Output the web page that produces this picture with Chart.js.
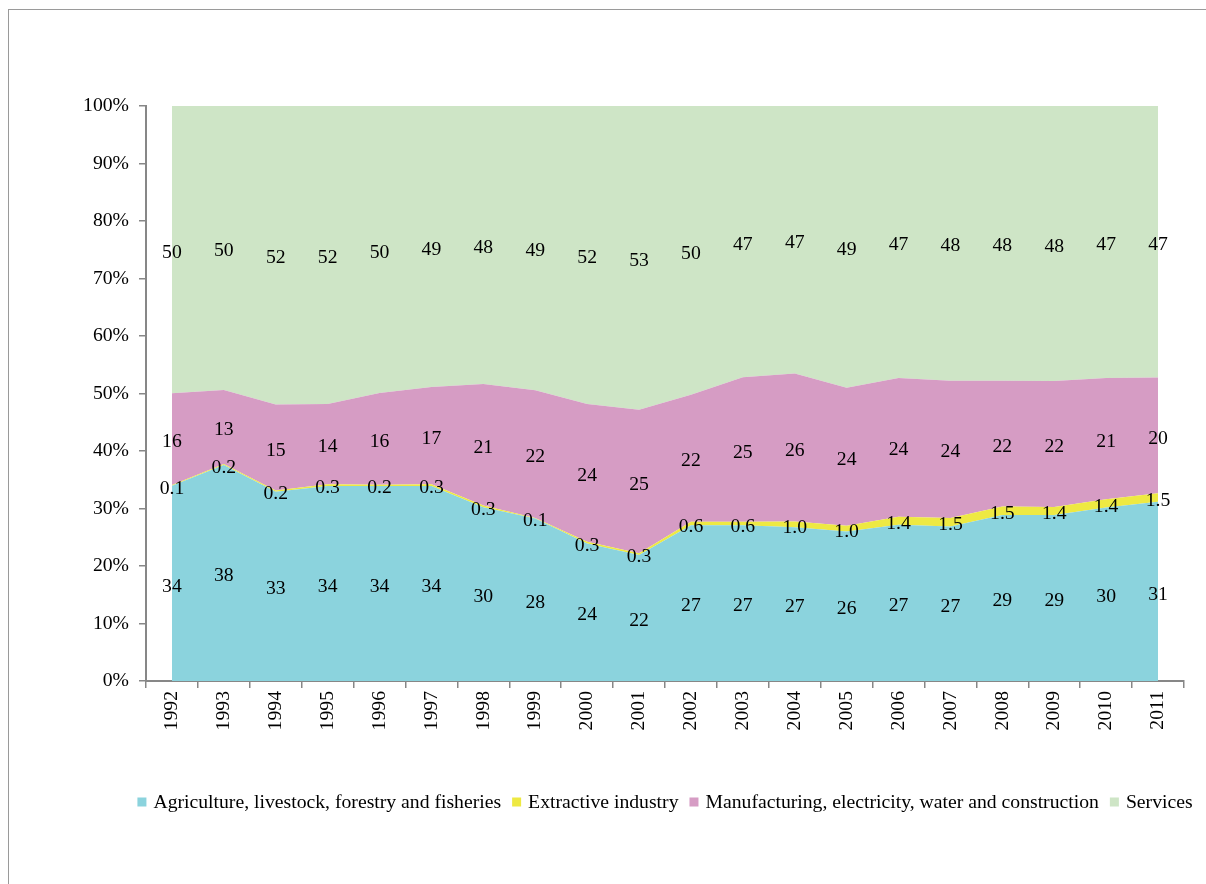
<!DOCTYPE html>
<html lang="en">
<head>
<meta charset="UTF-8" />
<title>GDP structure by sector, 1992-2011</title>
<script src="https://cdn.jsdelivr.net/npm/chart.js"></script>
<style>
  html, body { margin: 0; padding: 0; background: #fff; overflow: hidden; }
  #frame { position: absolute; left: 8px; top: 9px; width: 1300px; height: 1000px; border: 1.5px solid #9a9a9a; box-sizing: border-box; }
  #chart { position: absolute; left: 0; top: 0; }
</style>
</head>
<body>
<div id="frame"></div>
<canvas id="chart" width="1206" height="884"></canvas>

<script>
// shares of GDP by sector (%), as labelled on the chart
const years = ['1992','1993','1994','1995','1996','1997','1998','1999','2000','2001',
               '2002','2003','2004','2005','2006','2007','2008','2009','2010','2011'];
const agriculture   = [34, 38, 33, 34, 34, 34, 30, 28, 24, 22, 27, 27, 27, 26, 27, 27, 29, 29, 30, 31];
const extractive    = [0.1, 0.2, 0.2, 0.3, 0.2, 0.3, 0.3, 0.1, 0.3, 0.3, 0.6, 0.6, 1.0, 1.0, 1.4, 1.5, 1.5, 1.4, 1.4, 1.5];
const manufacturing = [16, 13, 15, 14, 16, 17, 21, 22, 24, 25, 22, 25, 26, 24, 24, 24, 22, 22, 21, 20];
const services      = [50, 50, 52, 52, 50, 49, 48, 49, 52, 53, 50, 47, 47, 49, 47, 48, 48, 48, 47, 47];
const yTicks = [0, 10, 20, 30, 40, 50, 60, 70, 80, 90, 100];

const FONT = '"Liberation Serif", "Times New Roman", serif';
const SIZE = 19.7;
const AXIS = '#878787';

const series = [
  { label: 'Agriculture, livestock, forestry and fisheries', values: agriculture, color: '#8bd3dd', fmt: v => Math.round(v) },
  { label: 'Extractive industry', values: extractive, color: '#eee942', fmt: v => v.toFixed(1) },
  { label: 'Manufacturing, electricity, water and construction', values: manufacturing, color: '#d69cc4', fmt: v => Math.round(v) },
  { label: 'Services', values: services, color: '#cee5c6', fmt: v => Math.round(v) }
];

// 100% stacking: turn each year into shares of its total
const totals = years.map((y, i) => series.reduce((s, d) => s + d.values[i], 0));

const segmentLabels = {
  id: 'segmentLabels',
  afterDatasetsDraw(chart) {
    const { ctx, scales: { x, y } } = chart;
    ctx.save();
    ctx.font = SIZE + 'px ' + FONT;
    ctx.fillStyle = '#000';
    ctx.textAlign = 'center';
    ctx.textBaseline = 'middle';
    years.forEach((yr, i) => {
      let base = 0;
      series.forEach(s => {
        const share = s.values[i] / totals[i] * 100;
        ctx.fillText(s.fmt(s.values[i]), x.getPixelForValue(i), y.getPixelForValue(base + share / 2) + 3);
        base += share;
      });
    });
    ctx.restore();
  }
};

const bottomLegend = {
  id: 'bottomLegend',
  afterDraw(chart) {
    const { ctx, chartArea } = chart;
    const box = 9, gap = 7, space = 11, cy = 802;
    ctx.save();
    ctx.font = SIZE + 'px ' + FONT;
    ctx.textBaseline = 'middle';
    ctx.textAlign = 'left';
    const widths = series.map(s => ctx.measureText(s.label).width);
    const total = widths.reduce((a, w) => a + box + gap + w, 0) + space * (series.length - 1);
    let x = (chartArea.left + chartArea.right) / 2 - total / 2;
    series.forEach((s, i) => {
      ctx.fillStyle = s.color;
      ctx.fillRect(x, cy - box / 2, box, box);
      ctx.fillStyle = '#000';
      ctx.fillText(s.label, x + box + gap, cy + 1);
      x += box + gap + widths[i] + space;
    });
    ctx.restore();
  }
};

new Chart(document.getElementById('chart'), {
  type: 'line',
  data: {
    labels: years,
    datasets: series.map((s, k) => ({
      label: s.label,
      data: s.values.map((v, i) => v / totals[i] * 100),
      backgroundColor: s.color,
      borderColor: s.color,
      borderWidth: 0,
      pointRadius: 0,
      tension: 0,
      fill: k === 0 ? 'origin' : '-1'
    }))
  },
  options: {
    responsive: false,
    animation: false,
    layout: { padding: { top: 106, left: 0, right: 22, bottom: 143 } },
    plugins: { legend: { display: false }, tooltip: { enabled: false } },
    scales: {
      x: {
        offset: true,
        grid: { offset: true, drawOnChartArea: false, color: AXIS, lineWidth: 1.5, tickLength: 7 },
        border: { color: AXIS, width: 2 },
        ticks: { autoSkip: false, minRotation: 90, maxRotation: 90, padding: 3, color: '#000', font: { family: FONT, size: SIZE } },
        afterFit: s => { s.height = 60; }
      },
      y: {
        stacked: true,
        min: 0,
        max: 100,
        afterBuildTicks: s => { s.ticks = yTicks.map(v => ({ value: v })); },
        grid: { drawOnChartArea: false, color: AXIS, lineWidth: 1.5, tickLength: 7 },
        border: { color: AXIS, width: 2 },
        ticks: { padding: 10, color: '#000', font: { family: FONT, size: SIZE }, callback: v => v + '%' },
        afterFit: s => { s.width = 146; }
      }
    }
  },
  plugins: [segmentLabels, bottomLegend]
});
</script>
</body>
</html>
